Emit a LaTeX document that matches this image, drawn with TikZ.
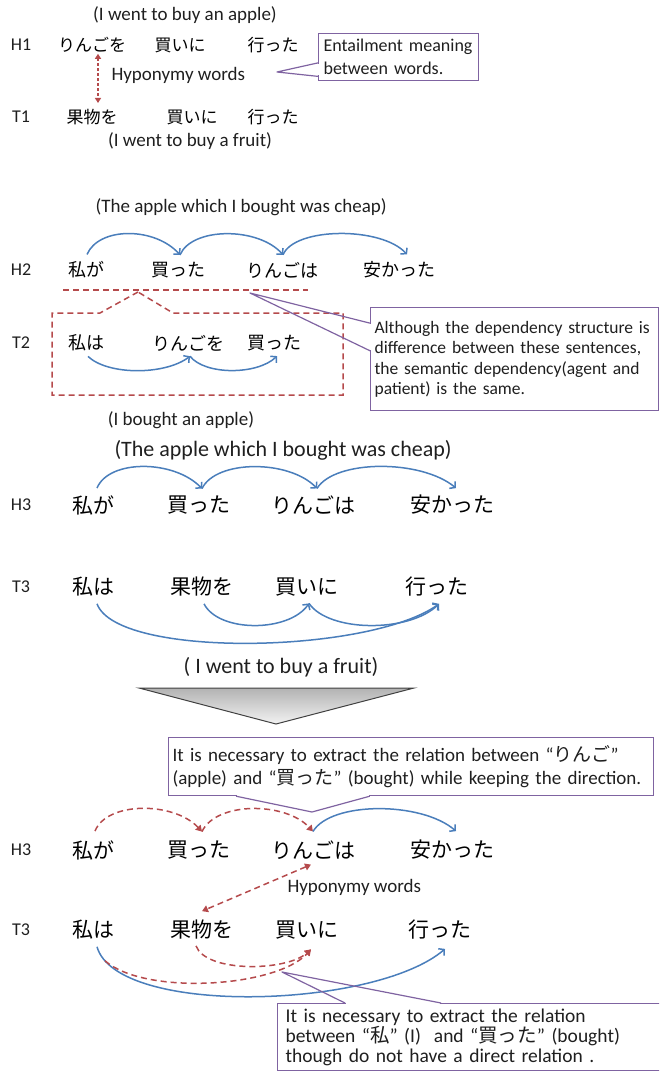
\documentclass[tikz,border=0pt]{standalone}
\usepackage{fontspec}
\setmainfont{Carlito}
\newfontfamily\jp{Noto Sans CJK JP}
\usetikzlibrary{arrows.meta,calc}
\definecolor{depblue}{HTML}{4A7EBB}
\definecolor{hypred}{HTML}{B54A4C}
\definecolor{boxpurple}{HTML}{7F63A1}
\definecolor{txt}{HTML}{1F1F1F}
\tikzset{
  word/.style={font=\jp\fontsize{17}{20}\selectfont, inner sep=1pt},
  midword/.style={font=\jp\fontsize{18}{21}\selectfont, inner sep=1pt},
  bigword/.style={font=\jp\fontsize{21}{24}\selectfont, inner sep=1pt},
  en/.style={font=\fontsize{19}{22}\selectfont, text=txt},
  bigen/.style={font=\fontsize{22}{26}\selectfont, text=txt},
  lab/.style={font=\fontsize{18}{20}\selectfont, text=txt},
  callbox/.style={draw=boxpurple, line width=1.2pt, fill=white, anchor=north west, align=left, text=txt},
  callline/.style={draw=boxpurple, line width=1.2pt, line join=round},
  gap/.style={white, line width=2.2pt, shorten <=1pt, shorten >=1pt},
  dep/.style={draw=depblue, line width=1.5pt, -{Straight Barb[length=4pt,width=9pt]}},
  hyp/.style={draw=hypred, line width=1.5pt, dash pattern=on 6pt off 4pt},
  hyparrow/.style={hyp, -{Triangle[length=6pt,width=7pt]}},
}
\begin{document}
\begin{tikzpicture}[x=1pt,y=-1pt]
\useasboundingbox (0,0) rectangle (659,1075);
\clip (0,0) rectangle (659,1075);

% H1 / T1
\node[en] (en1) at (185,15) {(I went to buy an apple)};
\node[lab] (H1) at (21,45) {H1};
\node[word] (h1a) at (92,45) {りんごを};
\node[word] (h1b) at (180,45) {買いに};
\node[word] (h1c) at (273,45) {行った};
\node[lab] (T1) at (21,117) {T1};
\node[word] (t1a) at (92,117) {果物を};
\node[word] (t1b) at (192,117) {買いに};
\node[word] (t1c) at (273,117) {行った};
\node[en] (en2) at (190,141) {(I went to buy a fruit)};
\node[en, anchor=west] (hypo1) at (108,75) {Hyponymy words};
\draw[hyp, dash pattern=on 3pt off 2pt, {Triangle[length=5pt,width=6pt]}-{Triangle[length=5pt,width=6pt]}]
  ([xshift=6pt]h1a.south) -- ([xshift=6pt,yshift=5pt]t1a.north);
\node[callbox, text width=150pt, minimum height=47pt, inner sep=5pt, font=\fontsize{18}{23}\selectfont]
  (note1) at (318,33) {Entailment meaning\\between words.};
\coordinate (tip1) at (277,72);
\coordinate (b1a) at ($(note1.north west)!0.62!(note1.south west)$);
\coordinate (b1b) at ($(note1.north west)!0.9!(note1.south west)$);
\draw[gap] (b1a) -- (b1b);
\draw[callline] (b1a) -- (tip1) -- (b1b);

% H2 / T2
\node[en, anchor=west] (en3) at (92,207) {(The apple which I bought was cheap)};
\node[lab] (H2) at (21,270) {H2};
\node[midword] (h2a) at (86,270) {私が};
\node[midword] (h2b) at (178,270) {買った};
\node[midword] (h2c) at (282,270) {りんごは};
\node[midword] (h2d) at (399,270) {安かった};
\draw[dep] ([xshift=1pt,yshift=6pt]h2a.north) .. controls +(12,-28) and +(-25,-28) .. ([xshift=2pt,yshift=6pt]h2b.north);
\draw[dep] ([xshift=2pt,yshift=6pt]h2b.north) .. controls +(12,-28) and +(-25,-28) .. ([xshift=1pt,yshift=6pt]h2c.north);
\draw[dep] ([xshift=1pt,yshift=6pt]h2c.north) .. controls +(12,-28) and +(-25,-28) .. ([xshift=8pt,yshift=6pt]h2d.north);
\coordinate (u1) at (63,290);
\coordinate (u2) at (308,290);
\draw[hyp] (u1) -- (u2);
\draw[hyp] (138,292) -- (100,313) -- (52,313) -- (52,395) -- (343,395) -- (343,313) -- (173,313) -- cycle;
\node[lab] (T2) at (21,343) {T2};
\node[midword] (t2a) at (86,343) {私は};
\node[midword] (t2b) at (188,343) {りんごを};
\node[midword] (t2c) at (274,343) {買った};
\draw[dep] ([xshift=2pt,yshift=-4pt]t2a.south) .. controls +(20,19) and +(-25,19) .. ([xshift=2pt,yshift=-4pt]t2b.south);
\draw[dep] ([xshift=2pt,yshift=-4pt]t2b.south) .. controls +(15,19) and +(-20,19) .. ([xshift=3pt,yshift=-4pt]t2c.south);
\node[en] (en4) at (181,420) {(I bought an apple)};
\node[callbox, text width=280pt, minimum height=103pt, inner xsep=4pt, font=\fontsize{17.5}{20.5}\selectfont]
  (note2) at (370,307) {Although the dependency structure is\\difference between these sentences,\\the semantic dependency(agent and\\patient) is the same.};
\coordinate (tip2) at (250,293);
\coordinate (b2a) at ($(note2.north west)!0.155!(note2.south west)$);
\coordinate (b2b) at ($(note2.north west)!0.42!(note2.south west)$);
\draw[gap] (b2a) -- (b2b);
\draw[callline] (b2a) -- (tip2) -- (b2b);

% H3 / T3
\node[bigen, anchor=west] (en5) at (111,450) {(The apple which I bought was cheap)};
\node[lab] (H3) at (21,505) {H3};
\node[bigword] (h3a) at (93,505) {私が};
\node[bigword] (h3b) at (199,505) {買った};
\node[bigword] (h3c) at (313,505) {りんごは};
\node[bigword] (h3d) at (452,505) {安かった};
\draw[dep] ([xshift=4pt,yshift=6pt]h3a.north) .. controls +(12,-29) and +(-28,-29) .. ([xshift=3pt,yshift=6pt]h3b.north);
\draw[dep] ([xshift=3pt,yshift=6pt]h3b.north) .. controls +(14,-29) and +(-28,-29) .. ([xshift=4pt,yshift=6pt]h3c.north);
\draw[dep] ([xshift=4pt,yshift=6pt]h3c.north) .. controls +(18,-29) and +(-35,-29) .. ([xshift=4pt,yshift=6pt]h3d.north);
\node[lab] (T3) at (21,587) {T3};
\node[bigword] (t3a) at (93,587) {私は};
\node[bigword] (t3b) at (202,587) {果物を};
\node[bigword] (t3c) at (307,587) {買いに};
\node[bigword] (t3d) at (437,587) {行った};
\draw[dep] ([xshift=4pt,yshift=-6pt]t3a.south) .. controls +(20,55) and +(-70,50) .. ([xshift=2pt,yshift=-6pt]t3d.south);
\draw[dep] ([xshift=2pt,yshift=-6pt]t3b.south) .. controls +(15,29) and +(-20,29) .. ([xshift=2pt,yshift=-6pt]t3c.south);
\draw[dep] ([xshift=2pt,yshift=-6pt]t3c.south) .. controls +(20,29) and +(-30,29) .. ([xshift=2pt,yshift=-6pt]t3d.south);
\node[bigen] (en6) at (281,667) {( I went to buy a fruit)};
\path[draw=black!75, line width=1pt, top color=gray!60, bottom color=gray!10] (139,688) -- (414,688) -- (276,724) -- cycle;

% extracted relations
\node[callbox, text width=477pt, minimum height=58pt, inner xsep=4pt, font=\fontsize{19}{23}\selectfont]
  (note3) at (168,737) {It is necessary to extract the relation between “{\jp りんご}”\\(apple) and “{\jp 買った}” (bought) while keeping the direction.};
\coordinate (tip3) at (312,812);
\coordinate (b3a) at ($(note3.south west)!0.14!(note3.south east)$);
\coordinate (b3b) at ($(note3.south west)!0.415!(note3.south east)$);
\draw[gap] (b3a) -- (b3b);
\draw[callline] (b3a) -- (tip3) -- (b3b);
\node[lab] (H4) at (21,850) {H3};
\node[bigword] (h4a) at (93,850) {私が};
\node[bigword] (h4b) at (199,850) {買った};
\node[bigword] (h4c) at (313,850) {りんごは};
\node[bigword] (h4d) at (452,850) {安かった};
\draw[hyparrow] ([xshift=2pt,yshift=8pt]h4a.north) .. controls +(12,-30) and +(-28,-30) .. ([xshift=3pt,yshift=8pt]h4b.north);
\draw[hyparrow] ([xshift=3pt,yshift=8pt]h4b.north) .. controls +(14,-30) and +(-28,-30) .. ([yshift=8pt]h4c.north);
\draw[dep] ([yshift=8pt]h4c.north) .. controls +(18,-30) and +(-35,-30) .. ([xshift=4pt,yshift=8pt]h4d.north);
\node[en, anchor=west] (hypo2) at (284,887) {Hyponymy words};
\node[lab] (T4) at (21,930) {T3};
\node[bigword] (t4a) at (93,930) {私は};
\node[bigword] (t4b) at (202,930) {果物を};
\node[bigword] (t4c) at (307,930) {買いに};
\node[bigword] (t4d) at (440,930) {行った};
\draw[hyp, {Triangle[length=6pt,width=7pt]}-{Triangle[length=6pt,width=7pt]}]
  ([xshift=-2pt,yshift=-4pt]h4c.south) -- ([yshift=8pt]t4b.north);
\draw[dep] ([xshift=4pt,yshift=-6pt]t4a.south) .. controls +(20,70) and +(-70,60) .. ([xshift=5pt,yshift=-8pt]t4d.south);
\draw[hyparrow] ([xshift=-6pt,yshift=-5pt]t4b.south) .. controls +(10,27) and +(-25,22) .. ([xshift=4pt,yshift=-9pt]t4c.south);
\draw[hyparrow] ([xshift=12pt,yshift=-20pt]t4a.south) .. controls +(40,35) and +(-35,38) .. ([xshift=4pt,yshift=-9pt]t4c.south);
\node[callbox, text width=370pt, inner xsep=8pt, inner ysep=5pt, font=\fontsize{19.5}{20}\selectfont]
  (note4) at (277,1003) {It is necessary to extract the relation\\between “{\jp 私}” (I)\ \ and “{\jp 買った}” (bought)\\though do not have a direct relation .};
\coordinate (tip4) at (282,972);
\coordinate (b4a) at ($(note4.north west)+(68,0)$);
\coordinate (b4b) at ($(note4.north west)+(164,0)$);
\draw[gap] (b4a) -- (b4b);
\draw[callline] (b4a) -- (tip4) -- (b4b);
\end{tikzpicture}
\end{document}
